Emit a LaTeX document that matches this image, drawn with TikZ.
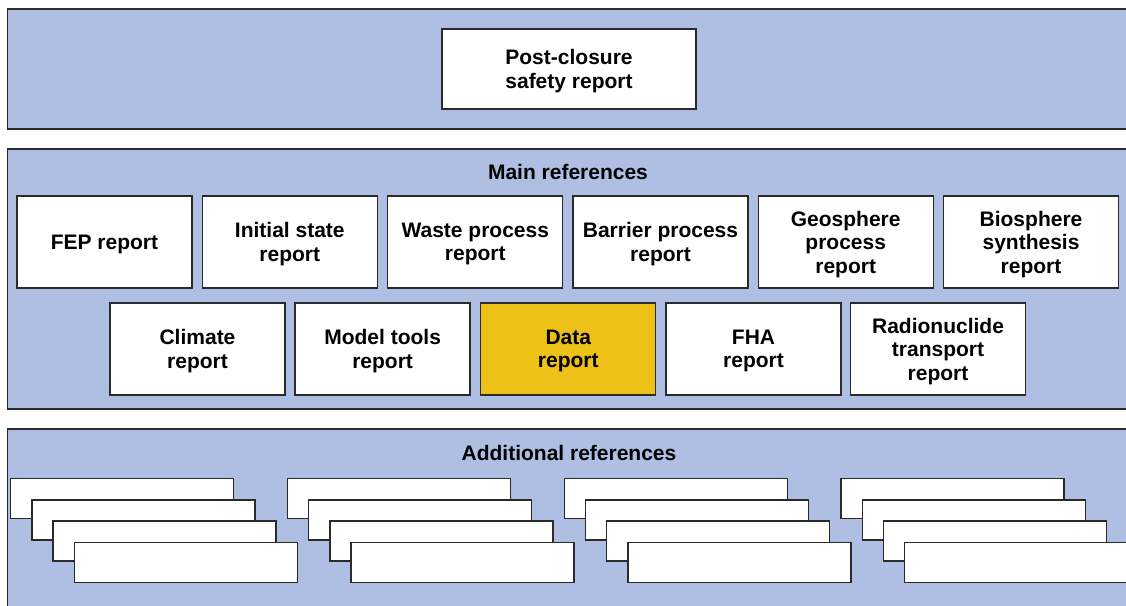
\documentclass[tikz,border=0pt]{standalone}
\usepackage{fontspec}
\setmainfont{Liberation Sans}
\definecolor{bandblue}{HTML}{AFBEE3}
\definecolor{datayellow}{HTML}{EDC117}
\definecolor{edgegray}{HTML}{2A2A2A}
\begin{document}
\begin{tikzpicture}[x=1pt,y=-1pt,
  band/.style={fill=bandblue,draw=edgegray,line width=1.4pt},
  report/.style={draw=edgegray,line width=1.3pt,fill=white,minimum width=175pt,minimum height=92pt,
    align=center,inner sep=0pt,text depth=0pt,font=\fontsize{21pt}{23.5pt}\selectfont\bfseries},
  heading/.style={font=\fontsize{21pt}{23.5pt}\selectfont\bfseries,inner sep=0pt,text depth=0pt},
  sheet/.style={draw=edgegray,line width=1.3pt,fill=white,minimum width=223pt,minimum height=40pt,
    inner sep=0pt,anchor=north west}]
\clip (0,0) rectangle (1126,605);

% three horizontal bands, open at the right and bottom
\draw[band] (7.5,9) rectangle (1140,129);
\draw[band] (7.5,149) rectangle (1140,409);
\draw[band] (7.5,429) rectangle (1140,620);

% top level report
\node[report,minimum width=254pt,minimum height=80pt] (psr) at (569,69) {Post-closure\\safety report};

% main references
\node[heading] (mainref) at (568,172) {Main references};
\node[report] (fep)  at (104.5,242) {FEP report};
\node[report] (init) at (289.8,242) {Initial state\\report};
\node[report] (wpr)  at (475.3,242) {Waste process\\report};
\node[report] (bpr)  at (660.5,242) {Barrier process\\report};
\node[report] (gpr)  at (845.7,242) {Geosphere\\process\\report};
\node[report] (bsr)  at (1031,242) {Biosphere\\synthesis\\report};

\node[report] (clim) at (197.5,349) {Climate\\report};
\node[report] (mtr)  at (382.6,349) {Model tools\\report};
\node[report,fill=datayellow] (data) at (568.3,349) {Data\\report};
\node[report] (fha)  at (753.5,349) {FHA\\report};
\node[report] (rnt)  at (938,349) {Radionuclide\\transport\\report};

% additional references: four stacks of overlapping sheets
\node[heading] (addref) at (569,453) {Additional references};
\foreach \g in {0,1,2,3}{
  \foreach \k in {0,1,2,3}{
    \node[sheet] (s\g\k) at ({10+276.8*\g+21.2*\k},{478+21.2*\k}) {};
  }
}
\end{tikzpicture}
\end{document}
